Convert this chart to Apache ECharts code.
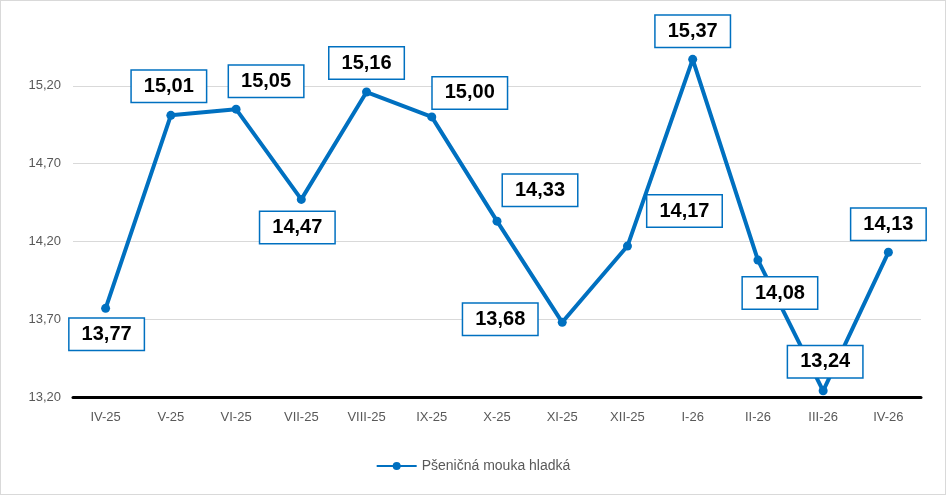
<!DOCTYPE html>
<html><head><meta charset="utf-8">
<script src="https://cdn.jsdelivr.net/npm/echarts@6/dist/echarts.min.js"></script>
<style>html,body{margin:0;padding:0;background:#fff}#c{width:946px;height:495px;box-sizing:border-box;border:1px solid #d9d9d9}</style>
</head><body><div id="c"></div>
<script>
const categories = ['IV-25','V-25','VI-25','VII-25','VIII-25','IX-25','X-25','XI-25','XII-25','I-26','II-26','III-26','IV-26'];
const values = [13.77,15.01,15.05,14.47,15.16,15.00,14.33,13.68,14.17,15.37,14.08,13.24,14.13];
const seriesName = 'Pšeničná mouka hladká';
// label layout offsets (presentation only)
const offs = [[1,26],[-2,-29],[30,-28],[-4,28],[0,-29],[38,-24],[43,-31],[-62,-3],[57,-35],[0,-28],[22,33],[2,-29],[0,-28]];
const chart = echarts.init(document.getElementById('c'));
chart.setOption({
  animation:false,
  grid:{left:72,right:24,top:7,bottom:97},
  xAxis:{type:'category',data:categories,boundaryGap:true,
    axisLine:{lineStyle:{color:'#000',width:3}},axisTick:{show:false},
    axisLabel:{color:'#595959',fontSize:13,fontFamily:'Liberation Sans',margin:14}},
  yAxis:{type:'value',min:13.2,max:15.7,interval:0.5,
    axisLabel:{color:'#595959',fontSize:13,fontFamily:'Liberation Sans',showMaxLabel:false,
      formatter:v=>v.toFixed(2).replace('.',','),margin:12},
    splitLine:{showMaxLine:false,lineStyle:{color:'#d9d9d9'}}},
  legend:{bottom:16,left:'center',itemWidth:40,itemHeight:10,
    textStyle:{color:'#595959',fontSize:14,fontFamily:'Liberation Sans'}},
  series:[{name:seriesName,type:'line',
    data:values.map((v,i)=>({value:v,label:{offset:offs[i]}})),
    symbol:'circle',symbolSize:9,
    lineStyle:{color:'#0070C0',width:4},itemStyle:{color:'#0070C0'},
    label:{show:true,position:'inside',formatter:p=>p.value.toFixed(2).replace('.',','),
      color:'#000',fontSize:20,fontWeight:'bold',fontFamily:'Liberation Sans',
      backgroundColor:'#fff',borderColor:'#0070C0',borderWidth:1.5,padding:[6,12,5,12]},
    labelLine:{show:false}}]
});
</script></body></html>
